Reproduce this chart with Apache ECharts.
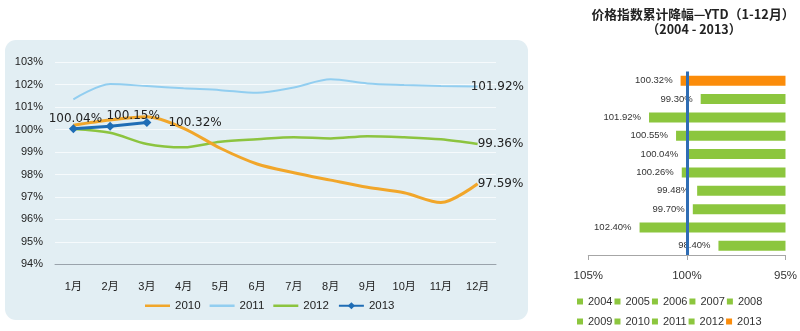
<!DOCTYPE html>
<html>
<head>
<meta charset="utf-8">
<script src="https://cdn.jsdelivr.net/npm/echarts@6/dist/echarts.min.js"></script>
<style>
  html, body { margin: 0; padding: 0; background: #ffffff; }
  #chart { width: 800px; height: 331px; }
</style>
</head>
<body>
<div id="chart"></div>
<script>
// Monthly price index, cumulative (%), one array per year
const months = ['1月', '2月', '3月', '4月', '5月', '6月', '7月', '8月', '9月', '10月', '11月', '12月'];
const index2010 = [100.20, 100.43, 100.57, 100.06, 99.17, 98.47, 98.08, 97.75, 97.43, 97.19, 96.75, 97.59];
const index2011 = [101.35, 102.03, 101.94, 101.84, 101.76, 101.64, 101.88, 102.24, 102.06, 101.99, 101.94, 101.92];
const index2012 = [100.03, 99.86, 99.36, 99.21, 99.46, 99.57, 99.66, 99.61, 99.71, 99.66, 99.57, 99.36];
const index2013 = [100.04, 100.15, 100.32];
const lineNames = ['2010', '2011', '2012', '2013'];

// Year-to-date decline per year (%)
const ytdYears = ['2004', '2005', '2006', '2007', '2008', '2009', '2010', '2011', '2012', '2013'];
const ytdValues = [98.40, 102.40, 99.70, 99.48, 100.26, 100.04, 100.55, 101.92, 99.30, 100.32];

const yMin = 94, yMax = 103, yStep = 1;
const xMin = 95, xMax = 105, xStep = 5;

const latin = "'Liberation Sans', Arial, 'Noto Sans CJK SC', sans-serif";
const labelFont = "'DejaVu Sans', Verdana, sans-serif";

const colors = {
  y2010: '#f1a62a',
  y2011: '#92cef0',
  y2012: '#8cc43f',
  y2013: '#1f6db5',
  barGreen: '#8cc63e',
  barOrange: '#fb8c0a',
  refLine: '#2f6db4'
};

const fmtPct = v => v.toFixed(2) + '%';
// Bar series carry a prefix so their names stay apart from the monthly lines
const barPrefix = 'ytd-';
const barName = year => barPrefix + year;

// Labels placed next to the 2013 points
const label2013 = [
  { position: 'top', distance: 0, offset: [2, 1] },
  { position: 'top', distance: 0, offset: [23, 0] },
  { position: 'right', distance: 17, offset: [0, 0] }
];

function endLabel(offsetX) {
  return {
    show: true,
    distance: 0,
    offset: [offsetX, 0],
    formatter: p => fmtPct(p.value),
    fontFamily: labelFont,
    fontSize: 12,
    color: '#222'
  };
}

const lineSeries = [
  {
    name: '2010', type: 'line', data: index2010, smooth: 0.3,
    symbol: 'none', lineStyle: { width: 3, color: colors.y2010 }, itemStyle: { color: colors.y2010 },
    endLabel: endLabel(0), z: 3
  },
  {
    name: '2011', type: 'line', data: index2011, smooth: 0.3,
    symbol: 'none', lineStyle: { width: 2, color: colors.y2011 }, itemStyle: { color: colors.y2011 },
    endLabel: endLabel(-7), z: 2
  },
  {
    name: '2012', type: 'line', data: index2012, smooth: 0.3,
    symbol: 'none', lineStyle: { width: 2.5, color: colors.y2012 }, itemStyle: { color: colors.y2012 },
    endLabel: endLabel(0), z: 2
  },
  {
    name: '2013', type: 'line', smooth: false,
    symbol: 'diamond', symbolSize: 9,
    lineStyle: { width: 3, color: colors.y2013 }, itemStyle: { color: colors.y2013 },
    data: index2013.map((v, i) => ({
      value: v,
      label: Object.assign({
        show: true,
        formatter: p => fmtPct(p.value),
        fontFamily: labelFont, fontSize: 12, color: '#222'
      }, label2013[i])
    })),
    z: 5
  }
];

// One bar series per year so that each year has its own legend entry
const barSeries = ytdYears.map((year, i) => ({
  name: barName(year),
  type: 'bar',
  xAxisIndex: 1,
  yAxisIndex: 1,
  barWidth: 10,
  barGap: '-100%',
  clip: true,
  itemStyle: { color: i === ytdYears.length - 1 ? colors.barOrange : colors.barGreen },
  label: {
    show: true,
    position: 'left',
    distance: 8,
    formatter: p => fmtPct(p.value),
    fontFamily: latin,
    fontSize: 9.5,
    color: '#333'
  },
  data: ytdYears.map((_, j) => (j === i ? ytdValues[i] : '-')),
  markLine: i === 0 ? {
    silent: true,
    symbol: 'none',
    label: { show: false },
    lineStyle: { color: colors.refLine, width: 3, type: 'solid' },
    data: [{ xAxis: 100 }],
    animation: false
  } : undefined,
  z: 2
}));

// Plain stroke icon for the unmarked lines in the legend
const strokeIcon = 'path://M0,0 L25,0 L25,2.5 L0,2.5 Z';
const lineLegendData = lineNames.map(n => (n === '2013' ? { name: n } : { name: n, icon: strokeIcon }));

const ytdLegendStyle = {
  padding: 0,
  icon: 'rect', itemWidth: 6, itemHeight: 6, itemGap: 2,
  formatter: name => name.slice(barPrefix.length),
  textStyle: { fontFamily: latin, fontSize: 11, color: '#333' }
};

const chart = echarts.init(document.getElementById('chart'), null, { renderer: 'canvas' });

chart.setOption({
  animation: false,
  backgroundColor: '#ffffff',
  graphic: [
    {
      type: 'rect', z: -10, silent: true,
      shape: { x: 5, y: 40, width: 523, height: 280, r: 11 },
      style: { fill: '#e2eef3' }
    },
    {
      type: 'text', silent: true,
      x: 693, y: 14,
      style: {
        text: '价格指数累计降幅—YTD（1-12月）',
        font: "bold 12.8px 'Noto Sans CJK SC', sans-serif",
        fill: '#222',
        textAlign: 'center', textVerticalAlign: 'middle',
        align: 'center', verticalAlign: 'middle'
      }
    },
    {
      type: 'text', silent: true,
      x: 694, y: 29.5,
      style: {
        text: '（2004 - 2013）',
        font: "bold 12.5px 'Noto Sans CJK SC', sans-serif",
        fill: '#222',
        textAlign: 'center', textVerticalAlign: 'middle',
        align: 'center', verticalAlign: 'middle'
      }
    }
  ],
  legend: [
    {
      data: lineLegendData,
      left: 145, top: 300, padding: 0,
      itemWidth: 25, itemHeight: 9, itemGap: 9,
      textStyle: { fontFamily: latin, fontSize: 11.5, color: '#222' }
    },
    Object.assign({ data: ytdYears.slice(0, 5).map(barName), left: 577, top: 296 }, ytdLegendStyle),
    Object.assign({ data: ytdYears.slice(5).map(barName), left: 577, top: 316 }, ytdLegendStyle)
  ],
  grid: [
    { left: 55, right: 304, top: 62.3, bottom: 66.7 },
    { left: 588.3, right: 14, top: 71.5, bottom: 76 }
  ],
  xAxis: [
    {
      type: 'category', gridIndex: 0, data: months, boundaryGap: true,
      axisLine: { show: true, lineStyle: { color: '#9aa3ab', width: 1 } },
      axisTick: { show: false },
      axisLabel: { margin: 17, fontFamily: latin, fontSize: 11, color: '#222' },
      splitLine: { show: false }
    },
    {
      type: 'value', gridIndex: 1, inverse: true,
      min: xMin, max: xMax, interval: xStep,
      axisLine: { show: true, lineStyle: { color: '#a6a6a6', width: 1 } },
      axisTick: { show: true, length: 5, lineStyle: { color: '#a6a6a6' } },
      axisLabel: { margin: 15, formatter: '{value}%', fontFamily: latin, fontSize: 11.5, color: '#333' },
      splitLine: { show: false }
    }
  ],
  yAxis: [
    {
      type: 'value', gridIndex: 0,
      min: yMin, max: yMax, interval: yStep,
      axisLine: { show: false },
      axisTick: { show: false },
      axisLabel: { margin: 12, formatter: '{value}%', fontFamily: latin, fontSize: 11, color: '#222' },
      splitLine: { show: true, lineStyle: { color: '#f6fafc', width: 1 } }
    },
    {
      type: 'category', gridIndex: 1, data: ytdYears,
      axisLine: { show: false },
      axisTick: { show: false },
      axisLabel: { show: false },
      splitLine: { show: false }
    }
  ],
  series: lineSeries.concat(barSeries)
});
</script>
</body>
</html>
